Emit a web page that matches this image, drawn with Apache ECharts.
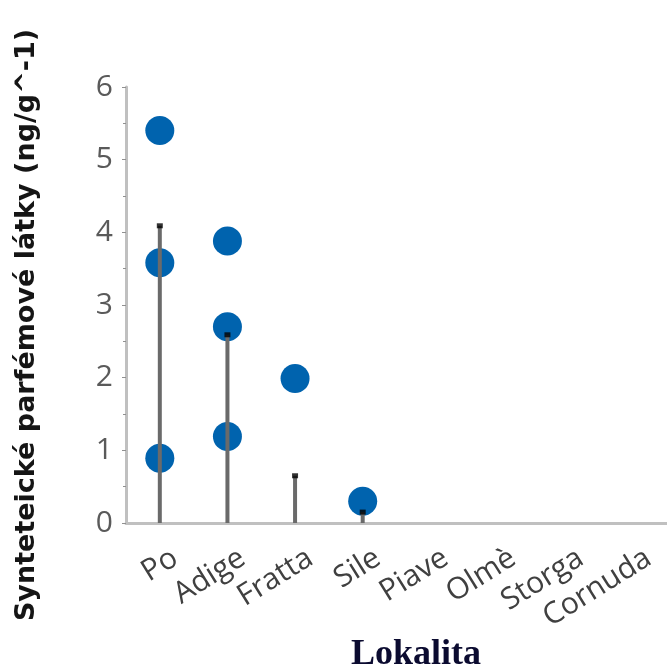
<!DOCTYPE html>
<html><head><meta charset="utf-8">
<script src="https://cdn.jsdelivr.net/npm/echarts@6/dist/echarts.min.js"></script>
<style>html,body{margin:0;padding:0;background:#fff}#c{width:667px;height:666px}</style>
</head><body><div id="c"></div>
<script>
var categories = ['Po','Adige','Fratta','Sile','Piave','Olmè','Storga','Cornuda'];
var dotCats = ['Po','Po','Po','Adige','Adige','Adige','Fratta','Sile'];
var dotValues = [5.4, 3.58, 0.89, 3.88, 2.7, 1.19, 1.99, 0.3];
var stemValues = [4.09, 2.59, 0.65, 0.15, null, null, null, null];
var yTicks = [0,1,2,3,4,5,6];
var yTitle = 'Synteteické parfémové látky (ng/g^-1)';
var xTitle = 'Lokalita';

var chart = echarts.init(document.getElementById('c'));
chart.setOption({
  animation:false,
  backgroundColor:'#fff',
  grid:{left:126, top:87, bottom:143, right:-3, containLabel:false},
  graphic:[
    {type:'text', x:27, y:325, rotation:Math.PI/2,
     style:{text:yTitle, font:'bold 27px "DejaVu Sans"', fill:'#151515', textAlign:'center', textVerticalAlign:'middle'}},
    {type:'text', x:416, y:655,
     style:{text:xTitle, font:'bold 36px "Liberation Serif"', fill:'#0b0b30', textAlign:'center', textVerticalAlign:'middle'}}
  ],
  xAxis:{
    type:'category', data:categories, boundaryGap:true,
    axisLine:{lineStyle:{color:'#c0c0c0', width:3}},
    axisTick:{alignWithLabel:true, length:8, lineStyle:{color:'#707070', width:2}},
    axisLabel:{rotate:32, fontFamily:'Open Sans', fontSize:30, color:'#404040', margin:8, interval:0,
      verticalAlign:'top', padding:[14,0,0,0]}
  },
  yAxis:{
    type:'value', min:0, max:6, interval:1,
    axisLine:{show:true, lineStyle:{color:'#c0c0c0', width:3}},
    axisTick:{show:true, length:4, lineStyle:{color:'#909090'}},
    minorTick:{show:true, splitNumber:2, length:3, lineStyle:{color:'#909090'}},
    splitLine:{show:false},
    axisLabel:{fontFamily:'Open Sans', fontSize:30, color:'#5a5a5a', margin:13,
      formatter:function(v){return yTicks.indexOf(v)>=0?String(v):'';}}
  },
  series:[
    {type:'scatter', z:1, symbolSize:29, itemStyle:{color:'#0063ae', opacity:1},
     data:dotCats.map(function(c,i){return [c, dotValues[i]];})},
    {type:'bar', z:2, barWidth:4, itemStyle:{color:'#6a6a6a'}, data:stemValues},
    {type:'scatter', z:3, symbol:'rect', symbolSize:[6,5], itemStyle:{color:'#000'},
     data:categories.map(function(c,i){return stemValues[i]==null?null:[c, stemValues[i]];}).filter(function(d){return d;})}
  ]
});
</script></body></html>
